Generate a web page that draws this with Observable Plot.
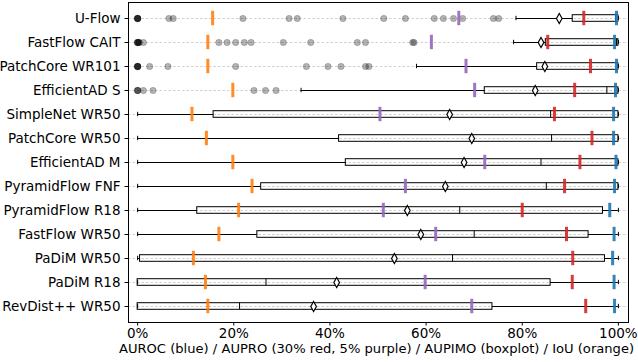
<!DOCTYPE html>
<html><head><meta charset="utf-8">
<script src="https://cdn.jsdelivr.net/npm/d3@7"></script>
<script src="https://cdn.jsdelivr.net/npm/@observablehq/plot@0.6"></script>
<style>body{margin:0;background:#fff} svg{font-family:"DejaVu Sans",sans-serif}</style>
</head><body><div id="chart"></div>
<script>
const models = ["U-Flow","FastFlow CAIT","PatchCore WR101","EfficientAD S","SimpleNet WR50","PatchCore WR50","EfficientAD M","PyramidFlow FNF","PyramidFlow R18","FastFlow WR50","PaDiM WR50","PaDiM R18","RevDist++ WR50"];
const whiskerLow = [78.7, 78.2, 58.0, 34.0, 0, 0, 0, 0, 0, 0, 0, 0, 0];
const q1 = [90.5, 84.9, 83.1, 72.2, 15.8, 41.9, 43.3, 25.7, 12.4, 24.9, 0.5, 0, 0];
const median = [99.4, 99.6, 99.8, 97.6, 85.9, 86.1, 83.9, 85.0, 67.0, 70.0, 65.5, 26.7, 21.2];
const q3 = [100, 100, 100, 100, 100, 100, 100, 100, 96.8, 93.8, 97.2, 85.9, 73.8];
const whiskerHigh = [100, 100, 100, 100, 100, 100, 100, 100, 100, 100, 100, 100, 100];
const meanScore = [87.7, 83.9, 84.7, 82.7, 64.9, 69.5, 67.9, 64.0, 56.1, 58.9, 53.4, 41.4, 36.6];
const auroc = [99.6, 99.2, 99.6, 99.4, 99.0, 99.0, 99.5, 99.2, 98.2, 99.1, 98.8, 99.1, 99.2];
const aupro30 = [92.8, 85.3, 94.2, 90.9, 86.7, 94.5, 92.0, 88.8, 80.0, 89.2, 90.5, 90.4, 93.2];
const aupro5 = [66.8, 61.1, 68.3, 70.1, 50.4, null, 72.2, 55.7, 51.1, 62.0, null, 59.8, 69.5];
const iou = [15.6, 14.6, 14.6, 19.8, 11.3, 14.3, 19.8, 23.8, 21.0, 16.9, 11.6, 14.1, 14.6];
const outliers = [
  [0, 0, 0, 0, 0, 6.5, 7.4, 21.9, 31.5, 33.2, 42.7, 51.2, 55.7, 61.7, 63.6, 65.7, 67.6, 74.0, 75.1],
  [0, 0, 0, 0, 0.3, 0.3, 1.2, 16.9, 18.6, 20.4, 22.2, 23.6, 30.3, 36.0, 45.7, 47.4, 57.2, 57.5],
  [0, 0, 0, 0, 0, 2.5, 6.3, 20.4, 35.1, 39.6, 42.3, 47.4, 48.1],
  [0, 0, 0, 1.2, 3.2, 24.2, 26.6, 28.8],
  [], [], [], [], [], [], [], [], []
];
const xTicks = [0, 20, 40, 60, 80, 100];
const xLabel = "AUROC (blue) / AUPRO (30% red, 5% purple) / AUPIMO (boxplot) / IoU (orange)";

const rows = models.map((m, i) => ({model: m, wlo: whiskerLow[i], q1: q1[i], med: median[i], q3: q3[i], whi: whiskerHigh[i],
  mean: meanScore[i], auroc: auroc[i], aupro30: aupro30[i], aupro5: aupro5[i], iou: iou[i]}));
const outPts = outliers.flatMap((arr, i) => arr.map(v => ({model: models[i], v})));

const thinDiamond = {draw(ctx, size) {
  const r = Math.sqrt(size / Math.PI);
  ctx.moveTo(0, -r * 1.25); ctx.lineTo(r * 0.7, 0); ctx.lineTo(0, r * 1.25); ctx.lineTo(-r * 0.7, 0); ctx.closePath();
}};

const metricTick = (field, color) => Plot.tickX(rows, {x: field, y: "model", stroke: color, strokeWidth: 3, strokeOpacity: 0.9, insetTop: 4.8, insetBottom: 4.8});

const chart = Plot.plot({
  width: 638, height: 362, marginLeft: 128, marginRight: 10, marginTop: 2, marginBottom: 40,
  style: {fontSize: "13.5px", fontFamily: "DejaVu Sans", color: "black", background: "white"},
  x: {domain: [-1.9, 102.1], ticks: xTicks, tickFormat: d => d + "%", label: null, tickSize: 3.5, tickPadding: 2},
  y: {type: "band", domain: models, padding: 0, label: null, tickSize: 3.5, tickPadding: 4.5},
  marks: [
    Plot.ruleY(models, {y: d => d, stroke: "#c4c4c4", strokeWidth: 0.8, strokeDasharray: "2.5,2"}),
    Plot.dot(outPts, {x: "v", y: "model", r: 3.2, fill: "black", fillOpacity: 0.3, stroke: "black", strokeOpacity: 0.15, strokeWidth: 1}),
    Plot.ruleY(rows, {y: "model", x1: "wlo", x2: "q1", stroke: "black"}),
    Plot.ruleY(rows, {y: "model", x1: "q3", x2: "whi", stroke: "black"}),
    Plot.tickX(rows, {x: "wlo", y: "model", stroke: "black", insetTop: 9.8, insetBottom: 9.8}),
    Plot.tickX(rows, {x: "whi", y: "model", stroke: "black", insetTop: 9.8, insetBottom: 9.8}),
    Plot.barX(rows, {x1: "q1", x2: "q3", y: "model", fill: "none", stroke: "black", insetTop: 8.7, insetBottom: 8.7}),
    Plot.tickX(rows, {x: "med", y: "model", stroke: "black", insetTop: 8.7, insetBottom: 8.7}),
    metricTick("iou", "#ff7f0e"),
    metricTick("aupro5", "#9467bd"),
    metricTick("aupro30", "#d62728"),
    metricTick("auroc", "#1f77b4"),
    Plot.dot(rows, {x: "mean", y: "model", r: 4, symbol: thinDiamond, fill: "white", stroke: "black", strokeWidth: 1.2}),
    Plot.frame({stroke: "black"}),
    Plot.text([xLabel], {frameAnchor: "bottom", dy: 30, dx: -2, fontSize: 13.1, fill: "black"})
  ]
});
document.getElementById("chart").appendChild(chart);
</script>
</body></html>
